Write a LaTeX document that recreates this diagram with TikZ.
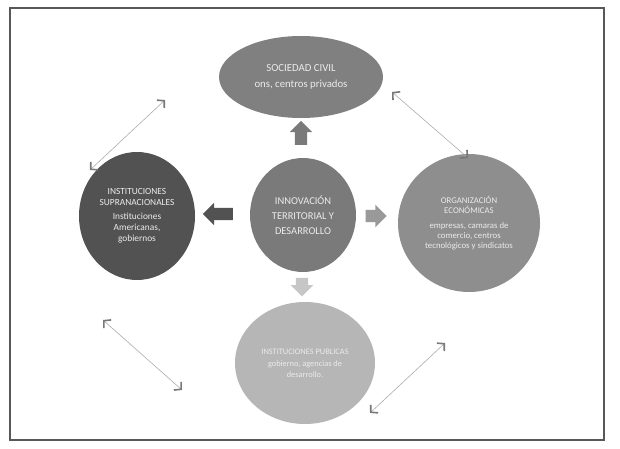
\documentclass[tikz,border=0pt]{standalone}
\usepackage{fontspec}
\setmainfont{Carlito}
\usetikzlibrary{shapes.geometric,shapes.arrows,arrows.meta}
\definecolor{framegray}{RGB}{88,88,88}
\definecolor{socgray}{RGB}{128,128,128}
\definecolor{supgray}{RGB}{82,82,82}
\definecolor{innogray}{RGB}{122,122,122}
\definecolor{orggray}{RGB}{142,142,142}
\definecolor{pubgray}{RGB}{182,182,182}
\definecolor{tipgray}{RGB}{120,120,120}
\begin{document}
\begin{tikzpicture}[x=1bp,y=-1bp,
  ovalstyle/.style={ellipse,inner sep=0,align=center,text=white!92!black},
  blockstyle/.style={single arrow,inner sep=6bp,draw=none,single arrow head extend=5bp},
  linkstyle/.style={draw=gray!65,line width=0.6bp,
    {Straight Barb[color=tipgray,line width=1.6bp,length=5bp,width=11bp]}-{Straight Barb[color=tipgray,line width=1.6bp,length=5bp,width=11bp]}}]
\useasboundingbox (0,0) rectangle (620,449);
\draw[framegray,line width=1.4bp] (10,8) rectangle (604,440);
% ovals
\node[ovalstyle,fill=socgray,minimum width=164bp,minimum height=82bp,font=\fontsize{10.8}{13}\selectfont] (soc) at (301,77)
  {SOCIEDAD CIVIL\\[3bp]ons, centros privados};
\node[ovalstyle,fill=supgray,minimum width=116bp,minimum height=128bp,font=\fontsize{9.4}{11}\selectfont] (sup) at (137,216)
  {INSTITUCIONES\\SUPRANACIONALES\\[3bp]Instituciones\\Americanas,\\gobiernos};
\node[ovalstyle,fill=innogray,minimum width=106bp,minimum height=114bp,font=\fontsize{10.5}{15}\selectfont] (inno) at (303,215)
  {INNOVACIÓN\\TERRITORIAL Y\\DESARROLLO};
\node[ovalstyle,fill=orggray,minimum width=142bp,minimum height=138bp,font=\fontsize{8.8}{10}\selectfont] (org) at (469,223)
  {ORGANIZACIÓN\\ECONÓMICAS\\[5bp]empresas, camaras de\\comercio, centros\\tecnológicos y sindicatos};
\node[ovalstyle,fill=pubgray,minimum width=140bp,minimum height=122bp,font=\fontsize{8.4}{11}\selectfont] (pub) at (305,363)
  {INSTITUCIONES PUBLICAS\\[1bp]gobierno, agencias de\\desarrollo.};
% block arrows
\node[blockstyle,fill=innogray,shape border rotate=90,minimum height=24bp] (up) at (301,136) {};
\node[blockstyle,fill=supgray,shape border rotate=180,minimum height=30bp] (left) at (221,214) {};
\node[blockstyle,fill=gray!80,shape border rotate=0,minimum height=21bp] (right) at (373,216) {};
\node[blockstyle,fill=gray!45,shape border rotate=270,minimum height=16bp] (down) at (302,284) {};
% links
\coordinate (l1a) at (90,170);  \coordinate (l1b) at (165,100);
\coordinate (l2a) at (392,92);  \coordinate (l2b) at (468,158);
\coordinate (l3a) at (103,320); \coordinate (l3b) at (182,390);
\coordinate (l4a) at (445,343); \coordinate (l4b) at (370,413);
\draw[linkstyle] (l1a) -- (l1b);
\draw[linkstyle] (l2a) -- (l2b);
\draw[linkstyle] (l3a) -- (l3b);
\draw[linkstyle] (l4a) -- (l4b);
\end{tikzpicture}
\end{document}
